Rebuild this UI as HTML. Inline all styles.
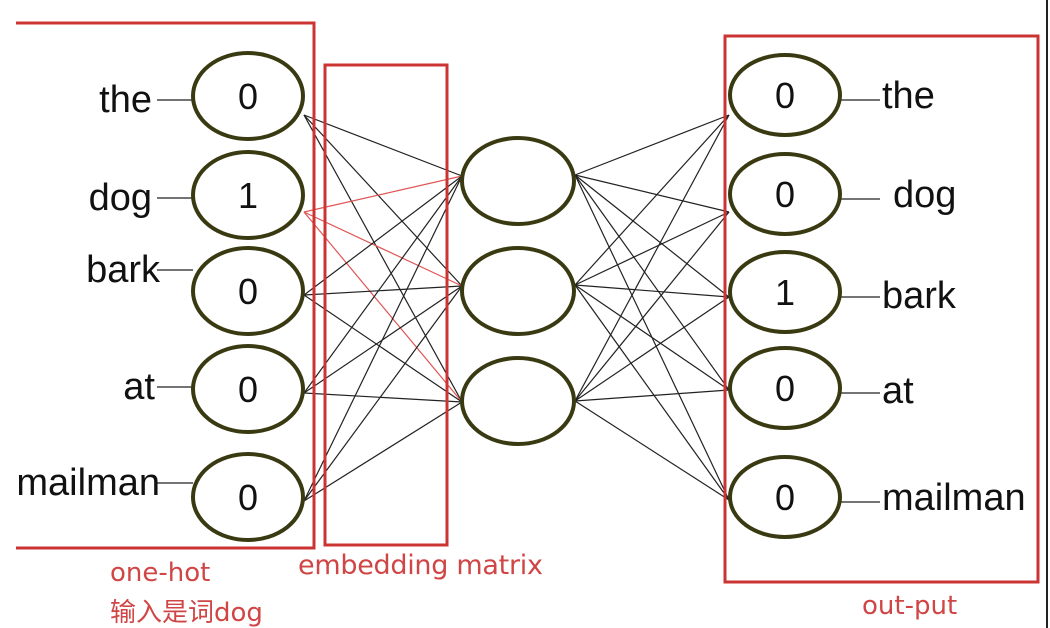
<!DOCTYPE html>
<html><head><meta charset="utf-8"><style>
html,body{margin:0;padding:0;background:#fff;}
svg{display:block;}
text{font-family:"Liberation Sans","Noto Sans CJK SC",sans-serif;}
.red{font-family:"DejaVu Sans","Noto Sans CJK SC",sans-serif;}
</style></head><body>
<svg id="d" width="1050" height="628" viewBox="0 0 1050 628">
<line x1="1047" y1="0" x2="1047" y2="628" stroke="#222" stroke-width="2"/>
<g id="edges"></g>
<g id="nodes"></g>
<polyline points="16,23 314,23 314,548 16,548" fill="none" stroke="#cc3333" stroke-width="3"/>
<rect x="325" y="65" width="122" height="480" fill="none" stroke="#cc3333" stroke-width="3"/>
<rect x="725" y="36" width="313" height="546" fill="none" stroke="#cc3333" stroke-width="3"/>
<text class="red" x="110" y="581" font-size="26" fill="#d04545">one-hot</text>
<text class="red" x="110" y="621" font-size="26" fill="#d04545">输入是词dog</text>
<text class="red" x="298" y="574" font-size="27" textLength="245" fill="#d04545">embedding matrix</text>
<text class="red" x="862" y="614" font-size="26" fill="#d04545">out-put</text>
</svg>
<script>
const words=["the","dog","bark","at","mailman"];
const inputValues=[0,1,0,0,0];
const outputValues=[0,0,1,0,0];
const hiddenCount=3;
const activeInput=1;

const NS="http://www.w3.org/2000/svg";
const E=document.getElementById('edges'),N=document.getElementById('nodes');
const inY=[96,195,291,389,497], hidY=[181,291,401], outY=[95,194,292,388,497];
const inLblY=[108,206,292,395,502], inLblX=[152,152,160,155,160];
const outLblX=[882,893,882,882,882], outLblY=[109,208,309,404,511];
function mk(t,a,p){const e=document.createElementNS(NS,t);for(const k in a)e.setAttribute(k,a[k]);(p||N).appendChild(e);return e;}
function line(x1,y1,x2,y2,c,p){return mk('line',{x1,y1,x2,y2,stroke:c,'stroke-width':1.2},p);}
inputValues.forEach((v,i)=>{for(let h=0;h<hiddenCount;h++){
  const red=i===activeInput;
  const l=line(304,inY[i]+(i===0?19:i===1?17:4),462,hidY[h]-5+(h===2?6:0),red?'#e05555':'#222',E);
  
  
}});
for(let h=0;h<hiddenCount;h++){outputValues.forEach((v,o)=>{
  const l=line(575,hidY[h]-6+(h===2?6:0),729,outY[o]+[20,18,5,2,3][o],'#222',E);
  
  
});}
function ell(cx,cy,rx,ry,name){const e=mk('ellipse',{cx,cy,rx,ry,fill:'#fff',stroke:'#3a3a12','stroke-width':4});
  
  }
function txt(x,y,s,sz,anchor,name){const t=mk('text',{x,y,'font-size':sz,'text-anchor':anchor,fill:'#111'});t.textContent=s;
  
  }
words.forEach((w,i)=>{
  const dy=(i===2?-14:i===4?-11:0);
  line(157,inLblY[i]-8+dy,193,inLblY[i]-8+dy,'#222');
  ell(248,inY[i],55,43,'input-node-'+w);
  txt(248,inY[i]+13,String(inputValues[i]),36,'middle','input-value-'+w);
  txt(inLblX[i],inLblY[i]+dy+4,w,38,'end','input-word-'+w);
});
for(let h=0;h<hiddenCount;h++) ell(518,hidY[h],56,43,'hidden-node-'+(h+1));
words.forEach((w,o)=>{
  line(840,outY[o]+5,880,outY[o]+5,'#222');
  ell(785,outY[o],55,40,'output-node-'+w);
  txt(785,outY[o]+13,String(outputValues[o]),36,'middle','output-value-'+w);
  txt(outLblX[o],outLblY[o]-1,w,38,'start','output-word-'+w);
});
</script>
</body></html>
